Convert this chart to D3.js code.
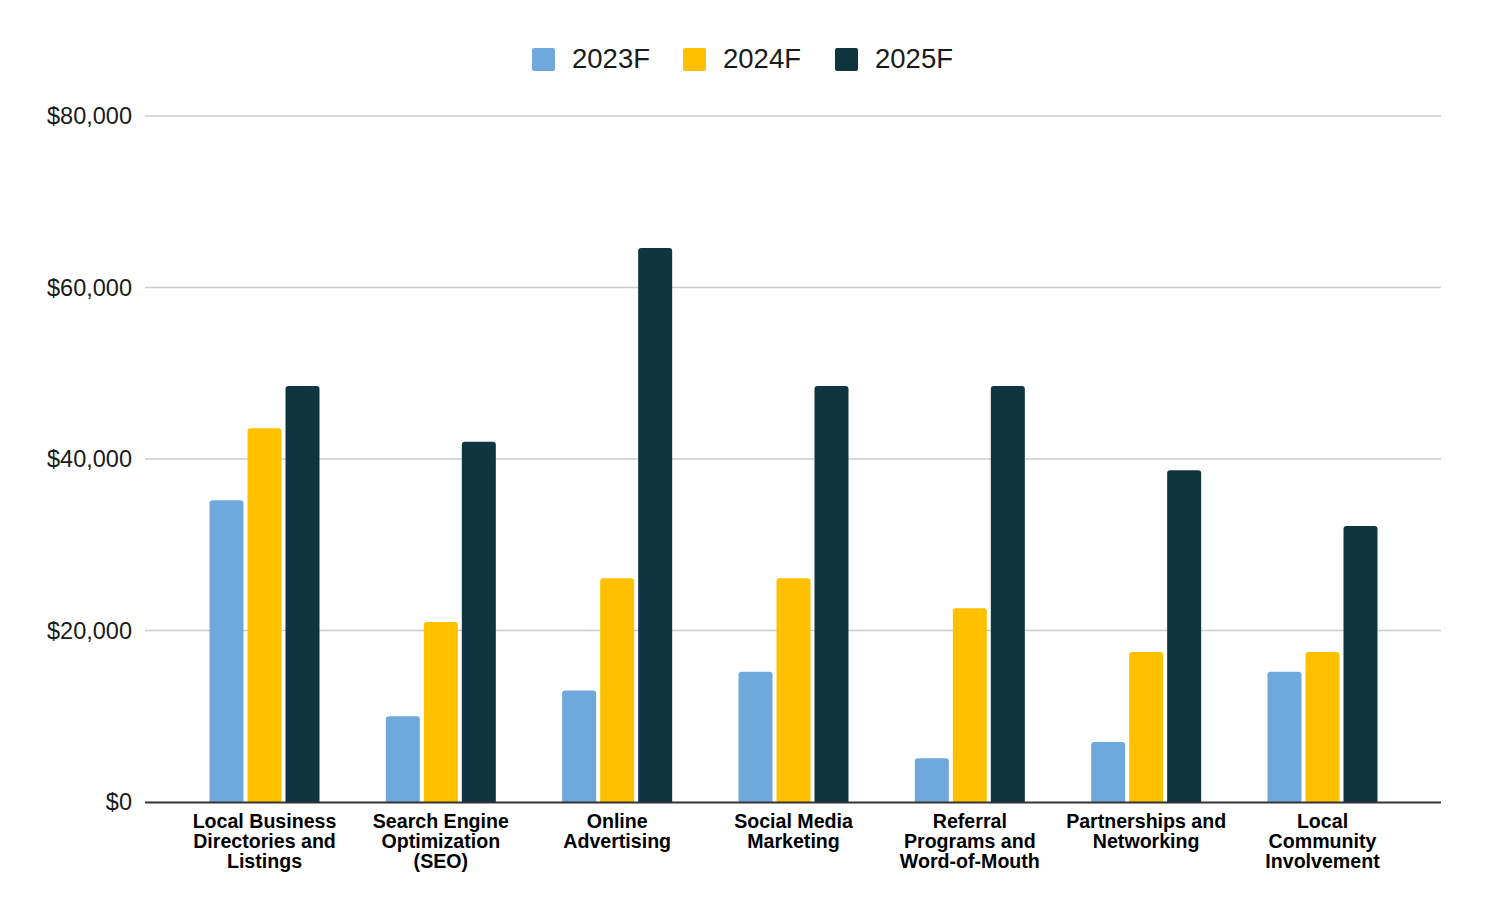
<!DOCTYPE html>
<html>
<head>
<meta charset="utf-8">
<script src="https://cdn.jsdelivr.net/npm/d3@7"></script>
<style>
  html, body { margin: 0; padding: 0; background: #fff; }
  svg { display: block; font-family: "Liberation Sans", Arial, sans-serif; }
</style>
</head>
<body>
<svg id="chart" width="1486" height="918"></svg>
<script>
const categories = [
  ["Local Business", "Directories and", "Listings"],
  ["Search Engine", "Optimization", "(SEO)"],
  ["Online", "Advertising"],
  ["Social Media", "Marketing"],
  ["Referral", "Programs and", "Word-of-Mouth"],
  ["Partnerships and", "Networking"],
  ["Local", "Community", "Involvement"]
];
const seriesNames = ["2023F", "2024F", "2025F"];
const values2023 = [35200, 10000, 13000, 15200, 5100, 7000, 15200];
const values2024 = [43600, 21000, 26100, 26100, 22600, 17500, 17500];
const values2025 = [48500, 42000, 64600, 48500, 48500, 38700, 32200];
const yTicks = [0, 20000, 40000, 60000, 80000];
const colors = ["#6fa8dc", "#ffc000", "#0f3640"];

const seriesValues = [values2023, values2024, values2025];
const svg = d3.select("#chart");
const plotLeft = 145, plotRight = 1441, plotTop = 116, plotBottom = 802;

const x0 = d3.scaleBand().domain(d3.range(categories.length))
  .range([plotLeft + 0.5, plotRight + 0.5]).paddingInner(0.3762).paddingOuter(0.363);
const x1 = d3.scaleBand().domain(d3.range(seriesNames.length))
  .range([0, x0.bandwidth()]).paddingInner(0.105).paddingOuter(0);
const y = d3.scaleLinear().domain([0, 80000]).range([plotBottom, plotTop]);

// gridlines
svg.append("g").selectAll("line").data(yTicks.filter(d => d > 0)).join("line")
  .attr("x1", plotLeft).attr("x2", plotRight)
  .attr("y1", d => y(d)).attr("y2", d => y(d))
  .attr("stroke", "#cccccc").attr("stroke-width", 1.3);

// y axis labels
const fmt = d => "$" + d3.format(",")(d);
svg.append("g").selectAll("text").data(yTicks).join("text")
  .attr("x", 132).attr("y", d => y(d)).attr("dy", "0.35em")
  .attr("text-anchor", "end").attr("font-size", 23.5).attr("fill", "#1a1a1a")
  .text(fmt);

// bars
function barPath(x, yTop, w, h, r) {
  r = Math.min(r, h, w / 2);
  return `M${x},${yTop + h}V${yTop + r}Q${x},${yTop} ${x + r},${yTop}H${x + w - r}Q${x + w},${yTop} ${x + w},${yTop + r}V${yTop + h}Z`;
}
const groups = svg.append("g").selectAll("g").data(categories).join("g")
  .attr("transform", (d, i) => `translate(${x0(i)},0)`);
groups.selectAll("path").data((d, i) => seriesValues.map((s, j) => ({ j, v: s[i] }))).join("path")
  .attr("fill", d => colors[d.j])
  .attr("d", d => barPath(x1(d.j), y(d.v), x1.bandwidth(), y(0) - y(d.v), 3));

// baseline
svg.append("line").attr("x1", plotLeft).attr("x2", plotRight)
  .attr("y1", plotBottom + 0.5).attr("y2", plotBottom + 0.5)
  .attr("stroke", "#333").attr("stroke-width", 2);

// category labels
const labels = svg.append("g").selectAll("text").data(categories).join("text")
  .attr("text-anchor", "middle").attr("font-size", 19.6).attr("font-weight", "bold")
  .attr("fill", "#000")
  .attr("transform", (d, i) => `translate(${x0(i) + x0.bandwidth() / 2},828)`);
labels.selectAll("tspan").data(d => d).join("tspan")
  .attr("x", 0).attr("dy", (d, i) => i === 0 ? 0 : 20).text(d => d);

// legend
const legendX = [532, 683, 835];
const leg = svg.append("g").selectAll("g").data(seriesNames).join("g")
  .attr("transform", (d, i) => `translate(${legendX[i]},48)`);
leg.append("rect").attr("width", 23).attr("height", 23).attr("rx", 2)
  .attr("fill", (d, i) => colors[i]);
leg.append("text").attr("x", 40).attr("y", 20).attr("font-size", 27.5)
  .attr("fill", "#1a1a1a").text(d => d);
</script>
</body>
</html>
